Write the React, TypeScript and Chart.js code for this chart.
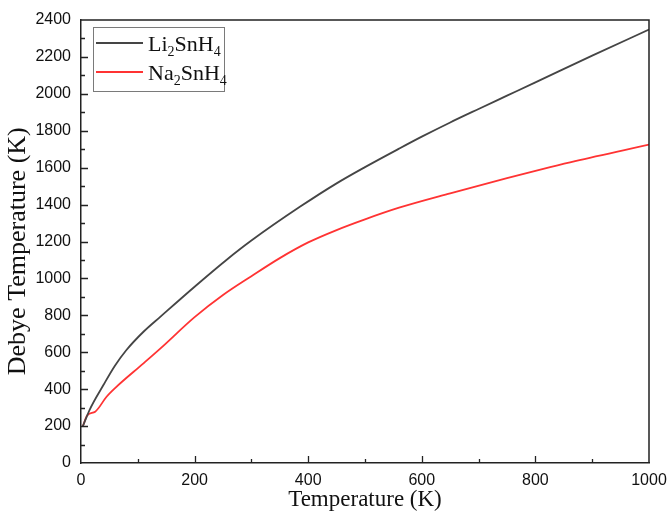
import React, { useEffect, useRef } from "react";
import { Chart, registerables } from "chart.js";

Chart.register(...registerables);

// ---- data ----
const temperatureLi = [3, 15, 40, 60, 80, 110, 140, 200, 256, 300, 386, 450, 500, 560, 600, 650, 700, 750, 800, 900, 1000];
const debyeLi = [197, 287, 425, 528, 612, 711, 793, 955, 1100, 1205, 1389, 1515, 1603, 1703, 1768, 1845, 1918, 1990, 2062, 2207, 2348];
const temperatureNa = [3, 11, 25, 45, 60, 110, 140, 200, 250, 300, 350, 400, 450, 500, 560, 650, 750, 826, 870, 1000];
const debyeNa = [197, 258, 278, 359, 406, 540, 621, 790, 910, 1012, 1110, 1195, 1262, 1320, 1383, 1461, 1543, 1603, 1636, 1725];
const seriesLabels = ["Li2SnH4", "Na2SnH4"];
const seriesColors = ["#454545", "#ff3333"];
const xAxisTitle = "Temperature (K)";
const yAxisTitle = "Debye Temperature (K)";
const xRange = [0, 1000];
const yRange = [0, 2400];
const xMajorStep = 200;
const xMinorStep = 100;
const yMajorStep = 200;
const yMinorStep = 100;

const AXIS_COLOR = "#222";
const SANS = "'Liberation Sans', Arial, sans-serif";
const SERIF = "'Liberation Serif', 'Times New Roman', serif";

const framePlugin = {
  id: "frameTicks",
  afterDraw(chart: any) {
    const { ctx, chartArea: a, scales } = chart;
    const x = scales.x;
    const y = scales.y;
    ctx.save();
    ctx.strokeStyle = AXIS_COLOR;
    ctx.lineWidth = 1.5;
    ctx.beginPath();
    ctx.moveTo(a.left, a.top);
    ctx.lineTo(a.right, a.top);
    ctx.lineTo(a.right, a.bottom);
    ctx.stroke();
    ctx.lineWidth = 1.3;
    ctx.beginPath();
    for (let v = xRange[0] + xMinorStep; v < xRange[1]; v += xMinorStep) {
      const px = Math.round(x.getPixelForValue(v)) + 0.5;
      const len = v % xMajorStep === 0 ? 7 : 4;
      ctx.moveTo(px, a.bottom);
      ctx.lineTo(px, a.bottom - len);
    }
    for (let v = yRange[0] + yMinorStep; v < yRange[1]; v += yMinorStep) {
      const py = Math.round(y.getPixelForValue(v)) + 0.5;
      const len = v % yMajorStep === 0 ? 7 : 4;
      ctx.moveTo(a.left, py);
      ctx.lineTo(a.left + len, py);
    }
    ctx.stroke();
    ctx.restore();
  },
};

function drawSubscripted(ctx: CanvasRenderingContext2D, text: string, x: number, y: number) {
  const parts = text.match(/(\d+|\D+)/g) || [];
  let cx = x;
  for (const p of parts) {
    const isSub = /^\d+$/.test(p);
    ctx.font = isSub ? `14px ${SERIF}` : `22px ${SERIF}`;
    ctx.fillText(p, cx, isSub ? y + 5 : y);
    cx += ctx.measureText(p).width;
  }
}

const legendPlugin = {
  id: "insideLegend",
  afterDraw(chart: any) {
    const { ctx, chartArea: a } = chart;
    const bx = a.left + 12;
    const by = a.top + 7;
    const bw = 131;
    const bh = 64;
    ctx.save();
    ctx.fillStyle = "#fff";
    ctx.fillRect(bx, by, bw, bh);
    ctx.strokeStyle = "#7a7a7a";
    ctx.lineWidth = 1;
    ctx.strokeRect(Math.round(bx) + 0.5, Math.round(by) + 0.5, bw, bh);
    chart.data.datasets.forEach((ds: any, i: number) => {
      const ly = by + 16 + i * 29;
      ctx.strokeStyle = ds.borderColor;
      ctx.lineWidth = 1.8;
      ctx.beginPath();
      ctx.moveTo(bx + 3, ly);
      ctx.lineTo(bx + 50, ly);
      ctx.stroke();
      ctx.fillStyle = "#111";
      ctx.textBaseline = "alphabetic";
      ctx.textAlign = "left";
      drawSubscripted(ctx, ds.label, bx + 55, ly + 7.5);
    });
    ctx.restore();
  },
};

export default function App() {
  const canvasRef = useRef<HTMLCanvasElement | null>(null);

  useEffect(() => {
    document.body.style.margin = "0";
    const canvas = canvasRef.current;
    if (!canvas) return;
    const chart = new Chart(canvas, {
      type: "line",
      data: {
        datasets: [
          {
            label: seriesLabels[0],
            data: temperatureLi.map((t, i) => ({ x: t, y: debyeLi[i] })),
            borderColor: seriesColors[0],
            borderWidth: 1.8,
            pointRadius: 0,
            cubicInterpolationMode: "monotone",
          },
          {
            label: seriesLabels[1],
            data: temperatureNa.map((t, i) => ({ x: t, y: debyeNa[i] })),
            borderColor: seriesColors[1],
            borderWidth: 1.8,
            pointRadius: 0,
            cubicInterpolationMode: "monotone",
          },
        ],
      },
      options: {
        responsive: false,
        animation: false,
        layout: { padding: { left: 0, right: 21, top: 20, bottom: 0 } },
        plugins: {
          legend: { display: false },
          tooltip: { enabled: false },
        },
        scales: {
          x: {
            type: "linear",
            min: xRange[0],
            max: xRange[1],
            grid: { display: false, drawTicks: false },
            border: { display: true, color: AXIS_COLOR, width: 1.5 },
            ticks: {
              stepSize: xMajorStep,
              padding: 8,
              color: "#111",
              font: { family: SANS, size: 16 },
              maxRotation: 0,
              callback: (v: any) => String(v),
            },
            title: {
              display: true,
              text: xAxisTitle,
              color: "#111",
              font: { family: SERIF, size: 23, lineHeight: 1 },
              padding: { top: 0, bottom: 0 },
            },
            afterFit(scale: any) {
              scale.height = 48;
              scale.paddingLeft = 0;
              scale.paddingRight = 0;
            },
          },
          y: {
            type: "linear",
            min: yRange[0],
            max: yRange[1],
            grid: { display: false, drawTicks: false },
            border: { display: true, color: AXIS_COLOR, width: 1.5 },
            ticks: {
              stepSize: yMajorStep,
              padding: 10,
              color: "#111",
              font: { family: SANS, size: 16 },
              callback: (v: any) => String(v),
            },
            title: {
              display: true,
              text: yAxisTitle + "   ",
              color: "#111",
              font: { family: SERIF, size: 26, lineHeight: 1 },
              padding: { top: 5, bottom: 0 },
            },
            afterFit(scale: any) {
              scale.width = 81;
              scale.paddingTop = 0;
              scale.paddingBottom = 0;
            },
          },
        },
      },
      plugins: [framePlugin, legendPlugin],
    } as any);
    return () => chart.destroy();
  }, []);

  return (
    <div style={{ position: "absolute", left: 0, top: 0, width: 670, height: 511, background: "#fff" }}>
      <canvas ref={canvasRef} width={670} height={511} style={{ display: "block" }} />
    </div>
  );
}
